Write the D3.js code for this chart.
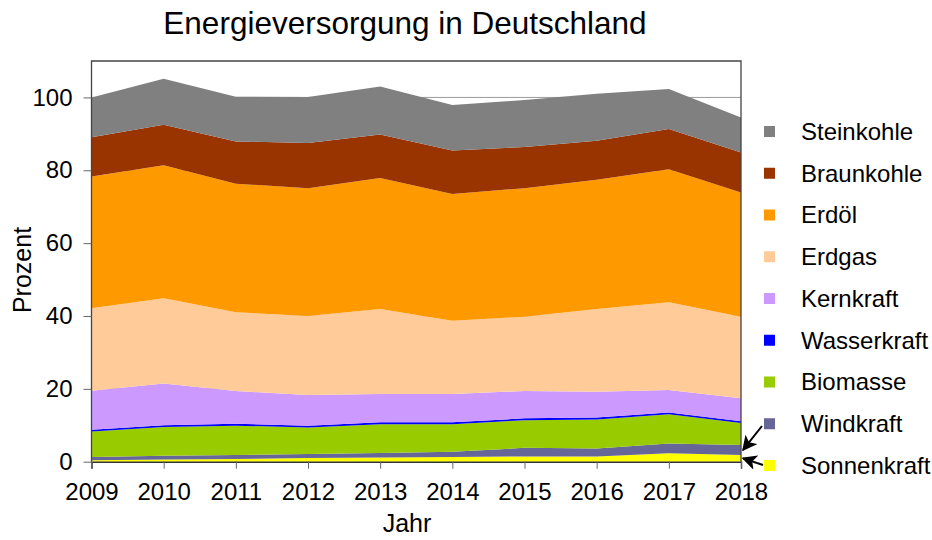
<!DOCTYPE html>
<html>
<head>
<meta charset="utf-8">
<script src="https://cdn.jsdelivr.net/npm/d3@7"></script>
<style>
  body { margin: 0; background: #fff; }
  text { font-family: "Liberation Sans", Arial, sans-serif; fill: #000; }
</style>
</head>
<body>
<div id="chart"></div>
<script>
// Werte (Prozent, je Jahr)
var years = [2009, 2010, 2011, 2012, 2013, 2014, 2015, 2016, 2017, 2018];
var sonnenkraft = [0.4, 0.6, 0.75, 1.0, 1.15, 1.3, 1.45, 1.4, 2.3, 1.85];
var windkraft   = [0.9, 1.0, 1.1, 1.1, 1.25, 1.4, 2.35, 2.2, 2.7, 2.75];
var biomasse    = [7.0, 7.9, 8.05, 7.3, 7.9, 7.6, 7.6, 8.0, 8.0, 6.0];
var wasserkraft = [0.5, 0.5, 0.5, 0.5, 0.5, 0.5, 0.5, 0.5, 0.5, 0.5];
var kernkraft   = [10.7, 11.5, 9.0, 8.4, 7.8, 7.8, 7.5, 7.1, 6.2, 6.3];
var erdgas      = [22.6, 23.4, 21.6, 21.7, 23.3, 20.1, 20.4, 22.7, 24.1, 22.4];
var erdoel      = [36.2, 36.5, 35.3, 35.1, 36.0, 34.8, 35.3, 35.5, 36.5, 34.1];
var braunkohle  = [10.8, 11.1, 11.6, 12.4, 11.9, 11.9, 11.3, 10.7, 11.0, 11.0];
var steinkohle  = [10.9, 12.6, 12.3, 12.6, 13.2, 12.5, 12.9, 12.9, 11.0, 9.6];

var yTicks = [0, 20, 40, 60, 80, 100];

// Reihenfolge von unten nach oben
var keys = ["Sonnenkraft", "Windkraft", "Biomasse", "Wasserkraft", "Kernkraft",
            "Erdgas", "Erdöl", "Braunkohle", "Steinkohle"];
var series = [sonnenkraft, windkraft, biomasse, wasserkraft, kernkraft,
              erdgas, erdoel, braunkohle, steinkohle];
var colors = ["#ffff00", "#666699", "#99cc00", "#0000ff", "#cc99ff",
              "#ffcc99", "#ff9900", "#993300", "#808080"];

var table = years.map(function(yr, i) {
  var row = { year: yr };
  keys.forEach(function(k, j) { row[k] = series[j][i]; });
  return row;
});

var svgWidth = 932, svgHeight = 540;
var margin = { top: 61, right: 191, bottom: 78.3, left: 91.5 };
var width = svgWidth - margin.left - margin.right;
var height = svgHeight - margin.top - margin.bottom;

var svg = d3.select("#chart").append("svg")
  .attr("width", svgWidth)
  .attr("height", svgHeight);

var chartGroup = svg.append("g")
  .attr("transform", `translate(${margin.left}, ${margin.top})`);

var xScale = d3.scaleLinear().domain([2009, 2018]).range([0, width]);
var yScale = d3.scaleLinear().domain([0, 110]).range([height, 0]);

// Gitternetz
chartGroup.selectAll(".grid")
  .data(yTicks.slice(1))
  .enter()
  .append("line")
  .attr("x1", 0).attr("x2", width)
  .attr("y1", d => yScale(d)).attr("y2", d => yScale(d))
  .attr("stroke", "#9a9a9a")
  .attr("stroke-width", 1);

var stack = d3.stack().keys(keys);
var stacked = stack(table);

var area = d3.area()
  .x(d => xScale(d.data.year))
  .y0(d => yScale(d[0]))
  .y1(d => yScale(d[1]));

chartGroup.selectAll(".layer")
  .data(stacked)
  .enter()
  .append("path")
  .attr("class", "layer")
  .attr("d", area)
  .attr("fill", (d, i) => colors[i]);

// Rahmen
chartGroup.append("path")
  .attr("d", `M0,${height}V0H${width}V${height}`)
  .attr("fill", "none")
  .attr("stroke", "#444")
  .attr("stroke-width", 1.3);

var leftAxis = d3.axisLeft(yScale).tickValues(yTicks).tickSize(8).tickPadding(11);
var bottomAxis = d3.axisBottom(xScale).tickValues(years)
  .tickFormat(d3.format("d")).tickSize(7).tickPadding(14);

var gy = chartGroup.append("g").call(leftAxis);
gy.select(".domain").remove();
gy.selectAll("line").attr("stroke", "#666");
gy.selectAll("text").attr("font-size", "24px").attr("font-family", "Liberation Sans, Arial, sans-serif");

var gx = chartGroup.append("g")
  .attr("transform", `translate(0, ${height})`)
  .call(bottomAxis);
gx.select(".domain").attr("stroke", "#333").attr("stroke-width", 1.5);
gx.selectAll("line").attr("stroke", "#666");
gx.selectAll("text").attr("font-size", "24px").attr("font-family", "Liberation Sans, Arial, sans-serif");

// Titel und Achsenbeschriftung
svg.append("text")
  .attr("x", 405)
  .attr("y", 34)
  .attr("text-anchor", "middle")
  .attr("font-size", "31.5px")
  .text("Energieversorgung in Deutschland");

svg.append("text")
  .attr("transform", "translate(31, 270) rotate(-90)")
  .attr("text-anchor", "middle")
  .attr("font-size", "25px")
  .text("Prozent");

svg.append("text")
  .attr("x", 407)
  .attr("y", 532)
  .attr("text-anchor", "middle")
  .attr("font-size", "25px")
  .text("Jahr");

// Legende
var legendKeys = keys.slice().reverse();
var legendColors = colors.slice().reverse();
var legend = svg.append("g").attr("transform", "translate(764, 131.5)");
var rowH = 41.75;

legend.selectAll("rect")
  .data(legendKeys)
  .enter()
  .append("rect")
  .attr("x", 0)
  .attr("y", (d, i) => i * rowH - 5.5)
  .attr("width", 11)
  .attr("height", 11)
  .attr("fill", (d, i) => legendColors[i]);

legend.selectAll("text")
  .data(legendKeys)
  .enter()
  .append("text")
  .attr("x", 37)
  .attr("y", (d, i) => i * rowH)
  .attr("dy", "0.35em")
  .attr("font-size", "24px")
  .text(d => d);

// Pfeile von der Legende zu den schmalen Flächen
svg.append("defs").append("marker")
  .attr("id", "arrow")
  .attr("viewBox", "0 0 10 10")
  .attr("refX", 9).attr("refY", 5)
  .attr("markerWidth", 7.5).attr("markerHeight", 7.5)
  .attr("orient", "auto")
  .append("path")
  .attr("d", "M0,0L10,5L0,10L2.5,5z")
  .attr("fill", "#000");

var last = stacked.map(s => s[s.length - 1]);
var arrows = [
  { from: [762, 426], layer: 1 },
  { from: [763, 465], layer: 0 }
];
svg.selectAll(".arrow")
  .data(arrows)
  .enter()
  .append("line")
  .attr("class", "arrow")
  .attr("x1", d => d.from[0])
  .attr("y1", d => d.from[1])
  .attr("x2", margin.left + xScale(2018) + 2)
  .attr("y2", d => margin.top + yScale((last[d.layer][0] + last[d.layer][1]) / 2))
  .attr("stroke", "#000")
  .attr("stroke-width", 2)
  .attr("marker-end", "url(#arrow)");
</script>
</body>
</html>
